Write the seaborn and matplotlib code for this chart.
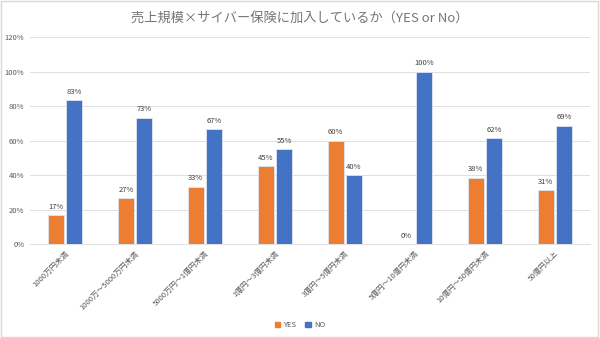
import matplotlib
matplotlib.use("Agg")
import matplotlib.pyplot as plt
import seaborn as sns
import pandas as pd
from matplotlib.patches import Rectangle

categories = ["1000万円未満", "1000万～5000万円未満", "5000万円～1億円未満", "1億円～3億円未満",
              "3億円～5億円未満", "5億円～10億円未満", "10億円～50億円未満", "50億円以上"]
yes_vals = [16.7, 26.7, 33.3, 45.0, 60.0, 0.0, 38.5, 31.3]
no_vals = [83.3, 73.3, 66.7, 55.0, 40.0, 100.0, 61.5, 68.7]
series = ["YES", "NO"]
colors = ["#ED7D31", "#4472C4"]
yticks = [0, 20, 40, 60, 80, 100, 120]

df = pd.DataFrame({
    "cat": categories * 2,
    "val": yes_vals + no_vals,
    "series": ["YES"] * len(categories) + ["NO"] * len(categories),
})

sns.set_theme(style="white")
plt.rcParams["font.family"] = ["Noto Sans CJK JP", "DejaVu Sans"]

fig = plt.figure(figsize=(6, 3.38), dpi=100)
ax = fig.add_axes([0.05, 0.278, 0.933, 0.6125])
sns.barplot(data=df, x="cat", y="val", hue="series", hue_order=series,
            palette=colors, saturation=1, width=0.52, gap=0.1, ax=ax, legend=False,
            edgecolor="#dfe6f3", linewidth=0.6)

ax.set_ylim(0, 120)
ax.set_yticks(yticks)
ax.set_yticklabels([f"{t}%" for t in yticks], fontsize=5.5, color="#595959")
ax.set_xticks(range(len(categories)))
ax.set_xticklabels(categories, rotation=45, ha="right", rotation_mode="anchor",
                   fontsize=5.5, color="#595959")
ax.tick_params(axis="both", length=0, pad=4)
ax.set_xlim(-0.5, len(categories) - 0.5)
ax.set_xlabel("")
ax.set_ylabel("")
ax.yaxis.grid(True, color="#d9d9d9", linewidth=0.6)
ax.set_axisbelow(True)
for s in ["top", "right", "left"]:
    ax.spines[s].set_visible(False)
ax.spines["bottom"].set_color("#d9d9d9")
ax.spines["bottom"].set_linewidth(0.6)

for cont in ax.containers:
    ax.bar_label(cont, labels=[f"{v:.0f}%" for v in cont.datavalues],
                 padding=3, fontsize=5.5, color="#404040")

fig.text(0.5, 0.945, "売上規模×サイバー保険に加入しているか（YES or No）",
         ha="center", va="center", fontsize=9.5, color="#757575")

handles = [Rectangle((0, 0), 1, 1, color=c) for c in colors]
fig.legend(handles, series, loc="center", bbox_to_anchor=(0.5, 0.037), ncol=2,
           frameon=False, fontsize=5.5, handlelength=0.7, handleheight=0.7,
           columnspacing=1.2, handletextpad=0.4, labelcolor="#595959")

fig.patches.append(Rectangle((0.002, 0.003), 0.995, 0.994, transform=fig.transFigure,
                             fill=False, edgecolor="#d9d9d9", linewidth=1))

fig.savefig("out.png", dpi=100)
